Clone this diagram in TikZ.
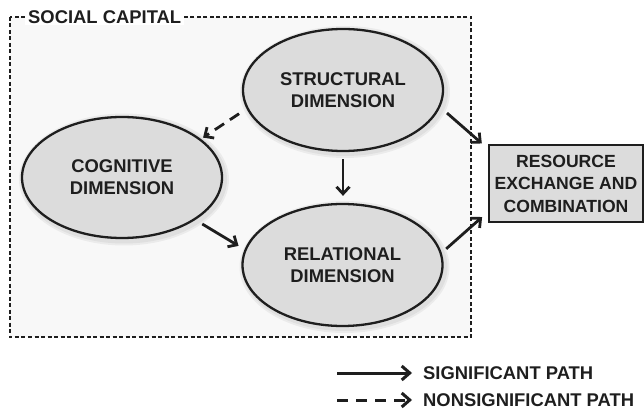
\documentclass[tikz,border=0pt]{standalone}
\usepackage{fontspec}
\setmainfont{Liberation Sans}
\usetikzlibrary{shapes.geometric,arrows.meta}
\definecolor{ink}{HTML}{1E1E1E}
\definecolor{dimfill}{HTML}{DCDCDC}
\definecolor{panel}{HTML}{F8F8F8}
\begin{document}
\begin{tikzpicture}[x=1pt,y=-1pt,
  lbl/.style={font=\fontsize{18.4}{22}\selectfont\bfseries, text=ink},
  dim/.style={ellipse, draw=ink, line width=2.3pt, fill=dimfill,
    minimum width=200pt, minimum height=122pt, inner sep=0pt, lbl, align=center},
  halo/.style={ellipse, fill=black, opacity=0.05, inner sep=0pt,
    minimum width=206pt, minimum height=128pt},
  outbox/.style={rectangle, draw=ink, line width=2.3pt, fill=dimfill,
    minimum width=154pt, minimum height=77pt, inner sep=0pt, align=center,
    font=\fontsize{17.6}{22.5}\selectfont\bfseries, text=ink},
  sig/.style={draw=ink, line width=2.8pt, -{Straight Barb[length=7pt,width=13pt]}},
  nsig/.style={sig, dash pattern=on 11pt off 7pt},
  frame/.style={draw=ink, line width=1.1pt, dash pattern=on 4pt off 2.5pt}
]
\useasboundingbox (0,0) rectangle (644,411);

% social capital panel
\fill[panel] (10,17) rectangle (471,337);
\draw[frame] (10,17) rectangle (471,337);
\node[lbl, fill=white, inner xsep=3pt, inner ysep=1pt, anchor=west] (title) at (25,17) {SOCIAL CAPITAL};

% soft shading around the dimensions
\foreach \cx/\cy in {343/90, 122/177.5, 342.5/265} {
  \node[halo] at (\cx+2,\cy+2) {};
  \node[halo, minimum width=210pt, minimum height=132pt] at (\cx+2,\cy+2) {};
}

% dimensions
\node[dim] (struct) at (343,90) {STRUCTURAL\\DIMENSION};
\node[dim, minimum height=121pt] (cog) at (122,177.5) {COGNITIVE\\DIMENSION};
\node[dim] (rel) at (342.5,265) {RELATIONAL\\DIMENSION};
\node[outbox] (res) at (566,183.5) {RESOURCE\\EXCHANGE AND\\COMBINATION};

% paths
\draw[nsig, shorten <=9pt, shorten >=2.5pt] (struct.191) -- (cog.26);
\draw[sig, shorten <=7pt, shorten >=7pt] (struct.south) -- (struct.south |- rel.north);
\draw[sig, shorten <=9pt, shorten >=8pt] (struct.350) -- (res.156.5);
\draw[sig, shorten <=8pt, shorten >=7pt] (cog.330.5) -- (rel.171.9);
\draw[sig, shorten <=6pt, shorten >=7.7pt] (rel.7.7) -- (res.200.4);

% legend
\coordinate (l1a) at (337,373);
\coordinate (l1b) at (412,373);
\coordinate (l2a) at (337,400);
\coordinate (l2b) at (412,400);
\draw[sig, line width=3pt, -{Straight Barb[length=8pt,width=14pt]}] (l1a) -- (l1b);
\draw[sig, line width=3pt, dash pattern=on 11pt off 8pt, -{Straight Barb[length=8pt,width=14pt]}] (l2a) -- (l2b);
\node[lbl, anchor=west, inner sep=0pt] (l1t) at (423,373) {SIGNIFICANT PATH};
\node[lbl, anchor=west, inner sep=0pt] (l2t) at (423,400) {NONSIGNIFICANT PATH};
\end{tikzpicture}
\end{document}
